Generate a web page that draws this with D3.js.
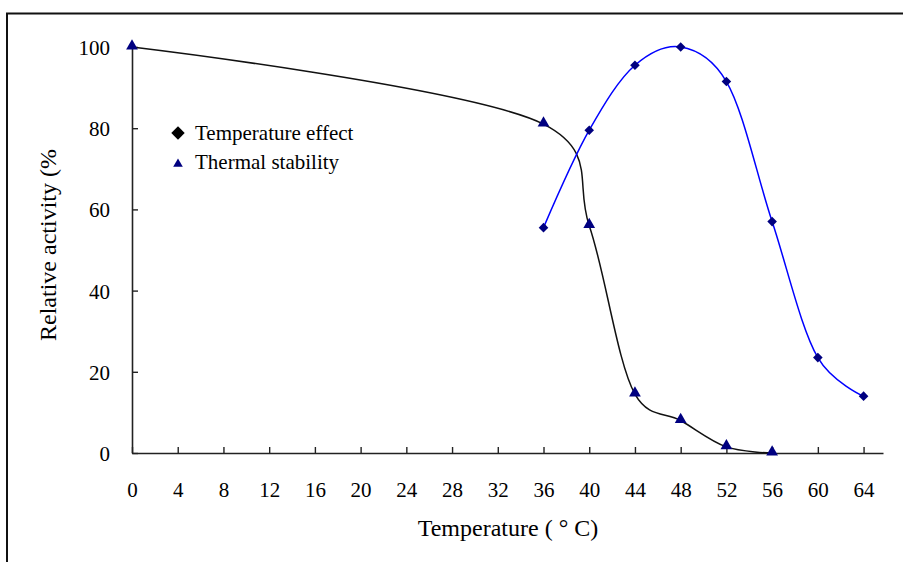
<!DOCTYPE html>
<html lang="en">
<head>
<meta charset="UTF-8">
<script src="https://cdnjs.cloudflare.com/ajax/libs/d3/7.8.5/d3.min.js"></script>
<style>
    body { margin: 0; background: #fff; }
    text { font-family: "Liberation Serif", "Times New Roman", serif; fill: #000; }
</style>
</head>
<body>
<svg id="chart" width="903" height="562"></svg>
<script>
    // data
    var stabTemp = [0, 36, 40, 44, 48, 52, 56];
    var stabValue = [100, 81, 56, 14.5, 8, 1.5, 0];
    var effTemp = [36, 40, 44, 48, 52, 56, 60, 64];
    var effValue = [55.5, 79.5, 95.5, 100, 91.5, 57, 23.5, 14];
    var xTicks = [0, 4, 8, 12, 16, 20, 24, 28, 32, 36, 40, 44, 48, 52, 56, 60, 64];
    var yTicks = [0, 20, 40, 60, 80, 100];

    var svg = d3.select('#chart');

    // outer frame (only top and left edges show)
    svg.append('path')
        .attr('d', 'M7,562V13.5H903')
        .attr('fill', 'none')
        .attr('stroke', '#111')
        .attr('stroke-width', 2);

    var x = d3.scaleLinear().domain([0, 65.7]).range([132, 883]);
    var y = d3.scaleLinear().domain([0, 100]).range([453, 47]);

    // x axis, ticks pointing up
    var xAxis = svg.append('g')
        .attr('transform', 'translate(0,' + y(0) + ')')
        .call(d3.axisBottom(x).tickValues(xTicks).tickSizeInner(-6).tickSizeOuter(0).tickPadding(29));
    // y axis, ticks pointing right
    var yAxis = svg.append('g')
        .attr('transform', 'translate(' + x(0) + ',0)')
        .call(d3.axisLeft(y).tickValues(yTicks).tickSizeInner(-6).tickSizeOuter(0).tickPadding(22));

    [xAxis, yAxis].forEach(function(g) {
        g.select('.domain').attr('stroke', '#222').attr('stroke-width', 1.6);
        g.selectAll('.tick line').attr('stroke', '#222').attr('stroke-width', 1.4);
        g.selectAll('.tick text')
            .style('font-family', '"Liberation Serif", serif')
            .style('font-size', '21px')
            .attr('fill', '#000');
    });
    yAxis.selectAll('.tick text').attr('dy', '0.36em');

    // smoothed lines, a little centripetal so the long first segment doesn't overshoot
    var curve = d3.curveCatmullRom.alpha(0.2);

    var stabLine = d3.line()
        .x(function(d, i) { return x(stabTemp[i]); })
        .y(function(d) { return y(d); })
        .curve(curve);
    var effLine = d3.line()
        .x(function(d, i) { return x(effTemp[i]); })
        .y(function(d) { return y(d); })
        .curve(curve);

    svg.append('path')
        .attr('d', stabLine(stabValue))
        .attr('fill', 'none')
        .attr('stroke', '#111')
        .attr('stroke-width', 1.5);
    svg.append('path')
        .attr('d', effLine(effValue))
        .attr('fill', 'none')
        .attr('stroke', '#0000ff')
        .attr('stroke-width', 1.5);

    var tri = d3.symbol().type(d3.symbolTriangle).size(60);
    var dia = d3.symbol().type(d3.symbolSquare).size(46);

    svg.selectAll('.stab')
        .data(stabValue)
        .enter().append('path')
        .attr('class', 'stab')
        .attr('d', tri)
        .attr('fill', '#000080')
        .attr('transform', function(d, i) {
            return 'translate(' + x(stabTemp[i]) + ',' + (y(d) - 1) + ')';
        });
    svg.selectAll('.eff')
        .data(effValue)
        .enter().append('path')
        .attr('class', 'eff')
        .attr('d', dia)
        .attr('fill', '#000080')
        .attr('transform', function(d, i) {
            return 'translate(' + x(effTemp[i]) + ',' + y(d) + ') rotate(45)';
        });

    // legend
    var legend = svg.append('g').attr('transform', 'translate(178,0)');
    legend.append('path')
        .attr('d', d3.symbol().type(d3.symbolSquare).size(90)())
        .attr('transform', 'translate(0,133) rotate(45)')
        .attr('fill', '#000');
    legend.append('path')
        .attr('d', d3.symbol().type(d3.symbolTriangle).size(40)())
        .attr('transform', 'translate(0,164)')
        .attr('fill', '#000080');
    legend.append('text')
        .attr('x', 17).attr('y', 133).attr('dy', '0.35em')
        .style('font-size', '21px')
        .text('Temperature effect');
    legend.append('text')
        .attr('x', 17).attr('y', 162).attr('dy', '0.35em')
        .style('font-size', '21px')
        .text('Thermal stability');

    // axis titles
    svg.append('text')
        .attr('x', 508).attr('y', 528)
        .attr('text-anchor', 'middle')
        .attr('dy', '0.35em')
        .style('font-size', '24px')
        .text('Temperature ( \u00b0 C)');
    svg.append('text')
        .attr('transform', 'translate(48,245) rotate(-90)')
        .attr('text-anchor', 'middle')
        .attr('dy', '0.35em')
        .style('font-size', '24px')
        .text('Relative activity (%');
</script>
</body>
</html>
